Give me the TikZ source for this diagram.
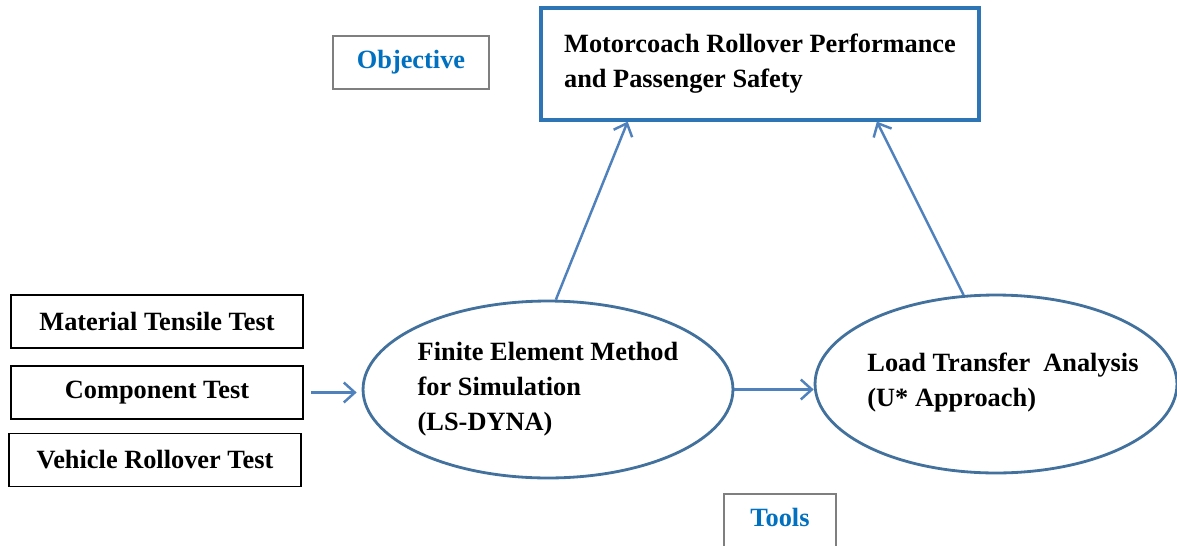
\documentclass[tikz,border=0pt]{standalone}
\usepackage{fontspec}
\setmainfont{Liberation Serif}
\usetikzlibrary{arrows.meta,shapes.geometric,calc}
\definecolor{ringblue}{HTML}{41719C}
\definecolor{arrowblue}{HTML}{4F81BD}
\definecolor{goalblue}{HTML}{2E75B6}
\definecolor{labelblue}{HTML}{0070C0}
\definecolor{tagframe}{HTML}{7F7F7F}
\tikzset{
    txt/.style={font=\fontsize{15}{20}\selectfont\bfseries},
    testbox/.style={txt, draw=black, line width=1pt, minimum width=5.84cm,
        minimum height=1.06cm, inner sep=0pt},
    tagbox/.style={txt, text=labelblue, draw=tagframe, line width=1.2pt,
        inner sep=0pt},
    ring/.style={ellipse, draw=ringblue, line width=1.6pt, inner sep=0pt},
    flow/.style={draw=arrowblue, line width=1.4pt,
        -{Straight Barb[length=2.2mm, width=4mm, line width=1.4pt]}}
}
\begin{document}
\begin{tikzpicture}[x=0.02cm, y=-0.02cm]
\useasboundingbox (0,0) rectangle (1177,545);
\fill[white] (0,0) rectangle (1177,545);
% goal and labels
\node[txt, draw=goalblue, line width=1.8pt, minimum width=8.76cm,
    minimum height=2.24cm, align=left, inner sep=0pt] (goal) at (760,64)
    {Motorcoach Rollover Performance\\and Passenger Safety};
\node[tagbox, minimum width=3.12cm, minimum height=1.06cm] (objective) at (411,62.5) {Objective};
\node[tagbox, minimum width=2.24cm, minimum height=1.16cm, text depth=6pt] (tools) at (780,523) {Tools};
% tests
\node[testbox] (tensile) at (157,321.5) {Material Tensile Test};
\node[testbox] (component) at (157,392.5) {Component Test};
\node[testbox] (rollover) at (155,460) {Vehicle Rollover Test};
% methods
\node[ring, minimum width=7.4cm, minimum height=3.54cm] (fem) at (548,389.5) {};
\node[txt, align=left] (femtext) at (fem.center)
    {Finite Element Method\\for Simulation\\(LS-DYNA)};
\node[ring, minimum width=7.24cm, minimum height=3.56cm] (lta) at (996,384) {};
\node[txt, align=left] (ltatext) at (1003,382.5)
    {Load Transfer~ Analysis\\(U* Approach)};
% arrows
\draw[flow, shorten <=0.14cm, shorten >=0.1cm] (component.east) -- (component.east -| fem.west);
\draw[flow] (fem.east) -- (fem.east -| lta.west);
\draw[flow] (fem.85) -- ($(goal.south west)!0.2!(goal.south east)$);
\draw[flow] (lta.110) -- ($(goal.south west)!0.765!(goal.south east)$);
\end{tikzpicture}
\end{document}
